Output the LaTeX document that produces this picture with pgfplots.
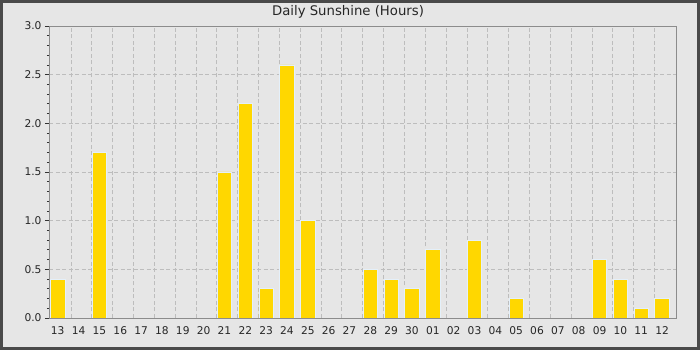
\documentclass[border=0pt]{standalone}
\usepackage{pgfplots}
\pgfplotsset{compat=1.18}
\usepackage{fontspec}
\setmainfont{DejaVu Sans}
\definecolor{bg}{HTML}{E6E6E6}
\definecolor{frame}{HTML}{4A4A4A}
\definecolor{gridc}{HTML}{BDBDBD}
\definecolor{axisc}{HTML}{8C8C8C}
\definecolor{bar}{HTML}{FFD700}
\definecolor{baredge}{HTML}{E4F0FA}
\begin{document}
\begin{tikzpicture}
\fill[bg] (0,0) rectangle (700bp,350bp);
\draw[frame, line width=2.6bp] (1.3bp,1.3bp) rectangle (698.7bp,348.7bp);
\path[use as bounding box] (0,0) rectangle (700bp,350bp);
\node[font=\fontsize{13.3}{15}\selectfont, text=black!85] at (348bp,338bp) {Daily Sunshine (Hours)};
\begin{axis}[
  scale only axis,
  width=627bp, height=292bp,
  at={(49bp,32bp)}, anchor=south west,
  xmin=-0.42, xmax=29.67, ymin=0, ymax=3,
  axis line style={axisc, line width=0.9bp},
  ybar, bar width=14.3bp,
  xtick={0,...,29},
  xticklabels={13,14,15,16,17,18,19,20,21,22,23,24,25,26,27,28,29,30,01,02,03,04,05,06,07,08,09,10,11,12},
  xtick style={draw=none},
  extra x ticks={0.635,1.635,2.635,3.635,4.635,5.635,6.635,7.635,8.635,9.635,10.635,11.635,12.635,13.635,14.635,15.635,16.635,17.635,18.635,19.635,20.635,21.635,22.635,23.635,24.635,25.635,26.635,27.635,28.635},
  extra x tick labels={},
  extra x tick style={grid=major, tick style={draw=none}},
  ytick={0,0.5,1,1.5,2,2.5,3},
  minor y tick num=4,
  ymajorgrids=true,
  major grid style={gridc, line width=0.8bp, dash pattern=on 4bp off 2.5bp},
  ytick pos=left,
  tick align=outside,
  major tick length=4bp,
  minor tick length=2.2bp,
  ytick style={black!80, line width=0.8bp},
  yticklabel style={/pgf/number format/.cd, fixed, fixed zerofill, precision=1},
  /pgf/number format/assume math mode=true,
  ticklabel style={font=\fontsize{10.7}{12}\selectfont, text=black!85},
  xticklabel style={yshift=-1bp},
]
\addplot[fill=bar, draw=baredge, line width=0.8bp] coordinates {
(0,0.4) (1,0) (2,1.7) (3,0) (4,0) (5,0) (6,0) (7,0) (8,1.5) (9,2.2)
(10,0.3) (11,2.6) (12,1.0) (13,0) (14,0) (15,0.5) (16,0.4) (17,0.3) (18,0.7) (19,0)
(20,0.8) (21,0) (22,0.2) (23,0) (24,0) (25,0) (26,0.6) (27,0.4) (28,0.1) (29,0.2)
};
\end{axis}
\end{tikzpicture}
\end{document}
